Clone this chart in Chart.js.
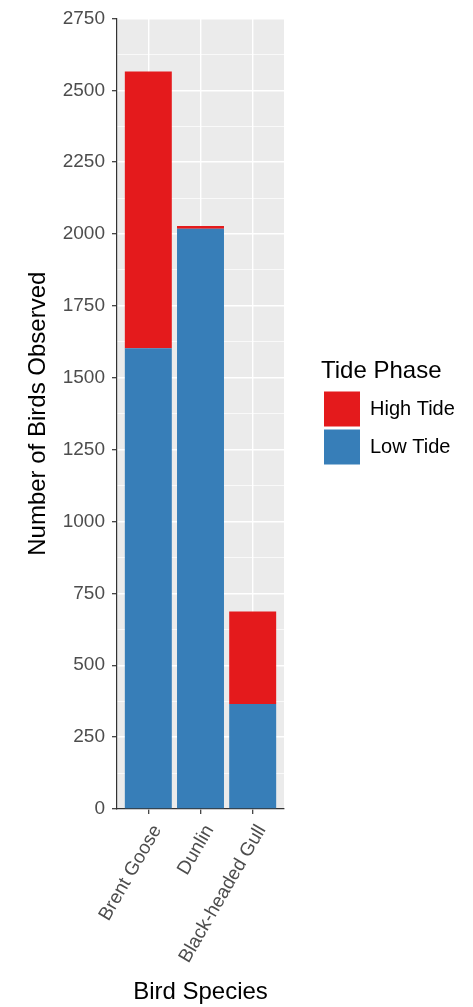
<!DOCTYPE html>
<html>
<head>
<meta charset="utf-8">
<script src="https://cdn.jsdelivr.net/npm/chart.js@4/dist/chart.umd.min.js"></script>
<style>
  html, body { margin: 0; padding: 0; background: #fff; }
  #wrap { width: 473px; height: 1007px; }
</style>
</head>
<body>
<div id="wrap"><canvas id="birdChart"></canvas></div>
<script>
// data
var species = ['Brent Goose', 'Dunlin', 'Black-headed Gull'];
var lowTide = [1603, 2018, 365];
var highTide = [962, 10, 322];
var yTicks = { min: 0, max: 2750, step: 125, major: 250 };

var FONT = '"Liberation Sans", Arial, sans-serif';

// grey ggplot panel behind the grid
var panelBg = {
  id: 'panelBg',
  beforeDraw: function (chart) {
    var a = chart.chartArea, ctx = chart.ctx;
    ctx.save();
    ctx.fillStyle = '#EBEBEB';
    ctx.fillRect(a.left, a.top, a.right - a.left, a.bottom - a.top);
    ctx.restore();
  }
};

function toPoints(values) {
  return values.map(function (v, i) { return { x: i + 1, y: v }; });
}

var ctx = document.getElementById('birdChart').getContext('2d');

var myChart = new Chart(ctx, {
  type: 'bar',
  data: {
    datasets: [
      { label: 'Low Tide', data: toPoints(lowTide), backgroundColor: '#377EB8', borderWidth: 0 },
      { label: 'High Tide', data: toPoints(highTide), backgroundColor: '#E41A1C', borderWidth: 0 }
    ]
  },
  options: {
    responsive: true,
    maintainAspectRatio: false,
    animation: false,
    categoryPercentage: 0.9,
    barPercentage: 1.0,
    layout: { padding: { top: 15, right: 12, bottom: 0, left: 0 } },
    plugins: {
      tooltip: { enabled: false },
      legend: {
        position: 'right',
        fullSize: false,
        maxWidth: 140,
        reverse: true,
        title: {
          display: true,
          text: 'Tide Phase',
          position: 'start',
          color: '#000',
          font: { family: FONT, size: 24 }
        },
        labels: {
          boxWidth: 36,
          boxHeight: 35,
          padding: 3,
          color: '#000',
          font: { family: FONT, size: 20 }
        }
      }
    },
    scales: {
      x: {
        type: 'linear',
        min: 0.4,
        max: 3.6,
        offset: false,
        stacked: true,
        afterBuildTicks: function (scale) {
          scale.ticks = species.map(function (s, i) { return { value: i + 1 }; });
        },
        afterFit: function (scale) { scale.height = 198; },
        grid: {
          offset: false,
          color: '#FFFFFF',
          lineWidth: 1.4,
          tickLength: 5,
          tickColor: '#333333',
          tickWidth: 1.2
        },
        border: { color: '#333333', width: 1.2 },
        ticks: {
          autoSkip: false,
          maxRotation: 60,
          minRotation: 60,
          padding: 7,
          labelOffset: 9,
          color: '#4D4D4D',
          font: { family: FONT, size: 19 },
          callback: function (value) { return species[value - 1] || ''; }
        },
        title: {
          display: true,
          text: 'Bird Species',
          color: '#000',
          font: { family: FONT, size: 24 },
          padding: { top: 0, bottom: 0 }
        }
      },
      y: {
        stacked: true,
        min: yTicks.min,
        max: yTicks.max,
        afterFit: function (scale) { scale.width = 117; },
        grid: {
          color: '#FFFFFF',
          lineWidth: function (c) { return c.tick && c.tick.value % yTicks.major === 0 ? 1.4 : 0.7; },
          tickLength: 5,
          tickColor: function (c) { return c.tick && c.tick.value % yTicks.major === 0 ? '#333333' : 'rgba(0,0,0,0)'; },
          tickWidth: 1.2
        },
        border: { color: '#333333', width: 1.2 },
        ticks: {
          stepSize: yTicks.step,
          autoSkip: false,
          padding: 7,
          color: '#4D4D4D',
          font: { family: FONT, size: 19 },
          callback: function (value) { return value % yTicks.major === 0 ? value : ''; }
        },
        title: {
          display: true,
          text: 'Number of Birds Observed',
          color: '#000',
          font: { family: FONT, size: 24 },
          padding: { top: 24, bottom: 0 }
        }
      },
      // empty spacer between the panel and the legend
      gap: {
        position: 'right',
        display: true,
        grid: { display: false },
        border: { display: false },
        ticks: { display: false },
        afterFit: function (scale) { scale.width = 37; }
      }
    }
  },
  plugins: [panelBg]
});
</script>
</body>
</html>
